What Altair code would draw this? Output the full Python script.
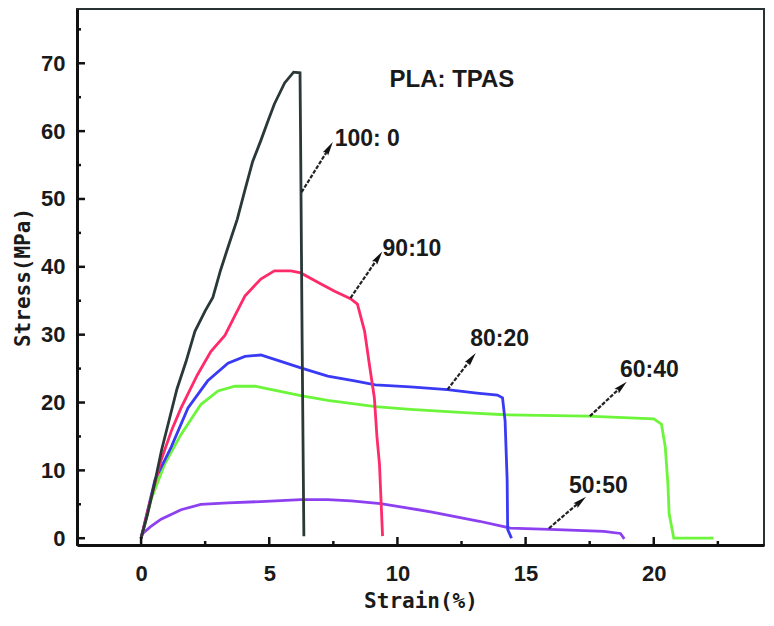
import math
import altair as alt
import pandas as pd

# ---- data ----
x_100_0 = [0, 0.25, 0.55, 0.8, 1.1, 1.4, 1.75, 2.1, 2.5, 2.8, 3.1, 3.4, 3.75, 4.05, 4.35, 4.67, 4.95, 5.2, 5.6, 5.95, 6.2, 6.22, 6.28, 6.35]
y_100_0 = [0, 3.5, 8.5, 13, 17.5, 22, 26, 30.5, 33.5, 35.5, 39.5, 43, 47, 51.3, 55.5, 58.6, 61.5, 64, 67.1, 68.7, 68.6, 60, 30, 0.3]

x_90_10 = [0, 0.27, 0.78, 1.2, 1.56, 2.2, 2.72, 3.27, 3.66, 4.05, 4.67, 5.2, 5.84, 6.23, 7.0, 7.55, 8.17, 8.44, 8.72, 8.91, 9.1, 9.2, 9.3, 9.42]
y_90_10 = [0, 4.2, 11.5, 16, 19.2, 24.1, 27.5, 29.9, 32.8, 35.7, 38.2, 39.4, 39.4, 39.1, 37.5, 36.4, 35.3, 34.5, 30.5, 25.5, 20.7, 15, 10.9, 0.3]

x_80_20 = [0, 0.54, 1.17, 1.83, 2.6, 3.39, 4.05, 4.67, 5.33, 6.23, 7.28, 8.33, 9.14, 10.5, 11.95, 13.1, 13.9, 14.1, 14.2, 14.28, 14.3, 14.45]
y_80_20 = [0, 8.6, 13.4, 19.2, 23.2, 25.8, 26.8, 27.0, 26.2, 25.1, 23.9, 23.2, 22.6, 22.3, 21.9, 21.4, 21.1, 20.7, 17.3, 8.6, 1.3, 0]

x_60_40 = [0, 0.39, 0.93, 1.56, 2.33, 3.0, 3.66, 4.44, 5.33, 6.23, 7.28, 9.14, 10.5, 12.6, 14.2, 17.4, 20.0, 20.3, 20.45, 20.55, 20.6, 20.78, 22.33]
y_60_40 = [-0.1, 5.7, 11, 15.3, 19.7, 21.7, 22.4, 22.4, 21.7, 21.0, 20.3, 19.4, 19.0, 18.5, 18.2, 18.0, 17.6, 16.8, 13.4, 8, 3.6, 0, 0]

x_50_50 = [0, 0.4, 0.78, 1.56, 2.33, 3.39, 4.67, 6.23, 7.28, 8.2, 9.34, 11.3, 13.2, 14.4, 15.95, 18.05, 18.7, 18.85]
y_50_50 = [0.5, 1.8, 2.8, 4.2, 5.0, 5.2, 5.4, 5.7, 5.7, 5.5, 5.1, 3.9, 2.5, 1.5, 1.3, 1.0, 0.7, -0.1]

series_names = ["50:50", "60:40", "80:20", "90:10", "100:0"]
series_colors = ["#8c40f0", "#6cf53a", "#3a3af5", "#ff2a6a", "#2a3838"]
series_x = [x_50_50, x_60_40, x_80_20, x_90_10, x_100_0]
series_y = [y_50_50, y_60_40, y_80_20, y_90_10, y_100_0]

label_texts = ["100: 0", "90:10", "80:20", "60:40", "50:50"]
label_x = [7.55, 9.42, 12.84, 18.68, 16.69]
label_y = [58.9, 42.7, 29.3, 24.8, 7.7]
arrow_start_x = [6.26, 8.17, 11.95, 17.51, 15.91]
arrow_start_y = [51.0, 35.4, 21.9, 18.0, 1.46]
arrow_tip_x = [7.30, 9.22, 12.85, 18.70, 17.10]
arrow_tip_y = [57.3, 41.2, 26.3, 22.2, 5.3]

title_text = "PLA: TPAS"
title_x = 9.69
title_y = 67.6

x_major = [0, 5, 10, 15, 20]
x_minor = [2.5, 7.5, 12.5, 17.5, 22.5]
y_major = [0, 10, 20, 30, 40, 50, 60, 70]
y_minor = [5, 15, 25, 35, 45, 55, 65, 75]

# ---- layout ----
W, H = 687, 536
XDOM = [-2.5, 24.3]
YDOM = [-1, 78]
px_x = W / (XDOM[1] - XDOM[0])
px_y = H / (YDOM[1] - YDOM[0])

rows = []
for name, xs, ys in zip(series_names, series_x, series_y):
    for i, (a, b) in enumerate(zip(xs, ys)):
        rows.append({"series": name, "strain": a, "stress": b, "i": i})
df = pd.DataFrame(rows)

XS = alt.Scale(domain=XDOM, nice=False, zero=False)
YS = alt.Scale(domain=YDOM, nice=False, zero=False)

TXT = "#1a1a1a"
AX = alt.Axis(values=x_major, ticks=False, grid=False, labelPadding=18,
              labelFont="Liberation Sans", labelFontWeight="bold", labelFontSize=22,
              labelColor=TXT, titleFont="DejaVu Sans Mono", titleFontWeight="bold",
              titleFontSize=21, titleColor=TXT, titlePadding=6,
              domainColor="#111", domainWidth=3)
AY = alt.Axis(values=y_major, ticks=False, grid=False, labelPadding=12,
              labelFont="Liberation Sans", labelFontWeight="bold", labelFontSize=22,
              labelColor=TXT, titleFont="DejaVu Sans Mono", titleFontWeight="bold",
              titleFontSize=21, titleColor=TXT, titlePadding=7,
              domainColor="#111", domainWidth=3)
XT = "Strain(%)"
YT = "Stress(MPa)"


def X(f):
    return alt.X(f, scale=XS, axis=AX, title=XT)


def Y(f):
    return alt.Y(f, scale=YS, axis=AY, title=YT)


curves = alt.Chart(df).mark_line(strokeWidth=2.8).encode(
    x=X("strain:Q"),
    y=Y("stress:Q"),
    color=alt.Color("series:N", scale=alt.Scale(domain=series_names, range=series_colors), legend=None),
    detail="series:N",
    order="i:Q",
)


def tick_layer(vals, axis, length, width):
    d = pd.DataFrame({"v": vals})
    if axis == "x":
        return alt.Chart(d).mark_rule(color="#111", strokeWidth=width).encode(
            x=X("v:Q"), y=alt.value(H), y2=alt.value(H - length))
    return alt.Chart(d).mark_rule(color="#111", strokeWidth=width).encode(
        y=Y("v:Q"), x=alt.value(0), x2=alt.value(length))


ticks = [tick_layer(x_major, "x", 8, 2.5), tick_layer(x_minor, "x", 4, 2.5),
         tick_layer(y_major, "y", 8, 2.5), tick_layer(y_minor, "y", 4, 2.5)]

arrow_rows = []
head_rows = []
for k in range(len(label_texts)):
    arrow_rows.append({"k": k, "sx": arrow_start_x[k], "sy": arrow_start_y[k],
                       "tx": arrow_tip_x[k], "ty": arrow_tip_y[k]})
    ang = math.degrees(math.atan2((arrow_tip_x[k] - arrow_start_x[k]) * px_x,
                                  (arrow_tip_y[k] - arrow_start_y[k]) * px_y))
    head_rows.append({"tx": arrow_tip_x[k], "ty": arrow_tip_y[k], "ang": ang})
arrows_df = pd.DataFrame(arrow_rows)
heads_df = pd.DataFrame(head_rows)

arrow_lines = alt.Chart(arrows_df).mark_rule(color="#222", strokeWidth=2.2, strokeDash=[4, 1.5]).encode(
    x=X("sx:Q"), y=Y("sy:Q"), x2="tx:Q", y2="ty:Q")

arrow_heads = alt.Chart(heads_df).mark_point(
    shape="M0,-1L0.36,0.6L0,0.35L-0.36,0.6Z", filled=True, color="#111", opacity=1, size=300
).encode(x=X("tx:Q"), y=Y("ty:Q"), angle=alt.Angle("ang:Q", scale=None))

labels_df = pd.DataFrame({"t": label_texts, "x": label_x, "y": label_y})
labels = alt.Chart(labels_df).mark_text(
    align="left", baseline="middle", font="Liberation Sans", fontWeight="bold", fontSize=23, color=TXT
).encode(x=X("x:Q"), y=Y("y:Q"), text="t:N")

title_df = pd.DataFrame({"t": [title_text], "x": [title_x], "y": [title_y]})
title_mark = alt.Chart(title_df).mark_text(
    align="left", baseline="middle", font="Liberation Sans", fontWeight="bold", fontSize=24, color=TXT
).encode(x=X("x:Q"), y=Y("y:Q"), text="t:N")

chart = alt.layer(curves, *ticks, arrow_lines, arrow_heads, labels, title_mark).properties(
    width=W, height=H,
    autosize=alt.AutoSizeParams(type="none"),
    padding={"left": 69, "top": 1, "right": 2, "bottom": 66},
    background="white",
).configure_view(stroke="#2a3333", strokeWidth=2)

chart.save("out.html", embed_options={"renderer": "svg", "actions": False})
